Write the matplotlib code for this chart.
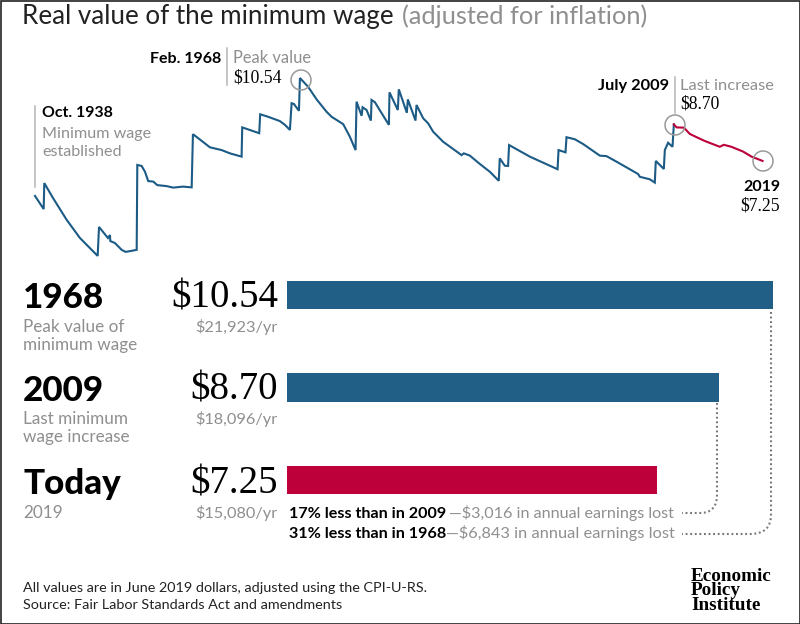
"""Real value of the minimum wage, EPI chart"""
import numpy as np
import matplotlib
matplotlib.use("Agg")
import matplotlib.pyplot as plt
from matplotlib.patches import Circle, PathPatch, Rectangle
from matplotlib.path import Path

# ---- data ----
blue_years = [1938.75, 1939.71, 1939.78, 1940.74, 1942.26, 1943.73, 1945.69, 1945.84, 1946.83, 1947.05,
              1947.09, 1947.61, 1948.35, 1948.79, 1950.01, 1950.08, 1950.56, 1950.93, 1951.29, 1951.85,
              1952.29, 1953.33, 1954.06, 1955.13, 1956.10, 1956.24, 1956.83, 1958.12, 1959.42, 1960.34,
              1961.63, 1961.70, 1963.58, 1963.69, 1964.58, 1965.87, 1966.43, 1966.98, 1967.17, 1967.42,
              1967.98, 1968.09, 1969.00, 1969.94, 1971.04, 1971.60, 1972.88, 1973.62, 1974.25, 1974.36,
              1974.92, 1975.03, 1975.47, 1975.95, 1976.02, 1976.39, 1977.94, 1978.01, 1978.93, 1979.04,
              1979.93, 1980.04, 1980.89, 1981.00, 1981.74, 1982.29, 1982.84, 1983.95, 1985.99, 1986.24,
              1986.91, 1988.01, 1989.12, 1990.11, 1990.22, 1990.78, 1991.14, 1991.25, 1993.55, 1996.62,
              1996.73, 1997.50, 1997.61, 1998.53, 1999.45, 2001.30, 2002.04, 2003.15, 2005.54, 2005.73,
              2006.84, 2007.39, 2007.50, 2008.39, 2008.50, 2008.86, 2009.35, 2009.50]
blue_wage = [5.86, 5.34, 6.37, 5.78, 4.91, 4.19, 3.48, 4.63, 4.19, 4.31,
             4.07, 3.99, 3.72, 3.64, 3.72, 7.09, 7.05, 6.82, 6.45, 6.43,
             6.29, 6.25, 6.19, 6.23, 6.20, 8.31, 8.15, 7.79, 7.68, 7.55,
             7.42, 8.58, 8.35, 9.10, 9.00, 8.83, 8.68, 8.48, 9.54, 9.51,
             9.24, 10.54, 10.19, 9.69, 9.20, 9.00, 8.71, 8.21, 7.68, 9.60,
             9.04, 9.38, 9.27, 8.85, 9.67, 9.58, 8.68, 9.97, 9.27, 10.09,
             9.16, 9.69, 8.85, 9.47, 8.94, 8.74, 8.41, 8.01, 7.48, 7.55,
             7.46, 7.13, 6.82, 6.46, 7.35, 7.06, 7.05, 7.88, 7.42, 6.92,
             7.68, 7.59, 8.19, 8.11, 7.92, 7.46, 7.44, 7.22, 6.73, 6.62,
             6.52, 6.39, 7.25, 6.93, 7.68, 7.97, 7.81, 8.70]
red_years = [2009.50, 2009.80, 2010.61, 2011.27, 2012.38, 2012.93, 2014.59, 2015.03, 2015.88, 2017.17, 2018.10, 2019.32]
red_wage = [8.70, 8.58, 8.57, 8.32, 8.13, 8.04, 7.81, 7.89, 7.81, 7.62, 7.42, 7.25]

bar_values = [10.54, 8.70, 7.25]
bar_labels = ["1968", "2009", "Today"]
bar_notes = [["Peak value of", "minimum wage"], ["Last minimum", "wage increase"], ["2019"]]
bar_prices = ["$10.54", "$8.70", "$7.25"]
bar_yearly = ["$21,923/yr", "$18,096/yr", "$15,080/yr"]

BLUE = "#1b5b85"
BAR_BLUE = "#225f87"
RED = "#bd0039"
GREY = "#8f8f8f"
SANS = "Lato"
SERIF = "Liberation Serif"

fig = plt.figure(figsize=(8, 6.24), dpi=100, facecolor="white")

# ---- line, same pixel box as the figure ----
ax = fig.add_axes([0, 0, 1, 1])
ax.plot(blue_years, blue_wage, color=BLUE, lw=1.5, solid_joinstyle="miter")
ax.plot(red_years, red_wage, color=RED, lw=1.5)
ax.set_xlim(1934.874, 2023.47)
ax.set_ylim(-11.125, 13.635)
ax.axis("off")

# ---- bars: the original lengths do not share one linear scale ----
bar_fwd = lambda v: np.interp(v, [0, 7.25, 8.70, 10.54], [0, 370, 432, 486])
bar_inv = lambda p: np.interp(p, [0, 370, 432, 486], [0, 7.25, 8.70, 10.54])
ax_bar = fig.add_axes([287 / 800, 1 - 526.25 / 624, 486 / 800, 277.5 / 624])
ax_bar.set_xscale("function", functions=(bar_fwd, bar_inv))
ax_bar.barh(range(3), bar_values, height=0.303, color=[BAR_BLUE, BAR_BLUE, RED])
ax_bar.set_xlim(0, 10.54)
ax_bar.set_ylim(2.5, -0.5)
ax_bar.axis("off")

# ---- overlay in image pixels for the annotations ----
ov = fig.add_axes([0, 0, 1, 1])
ov.set_xlim(0, 800)
ov.set_ylim(624, 0)
ov.axis("off")
ov.patch.set_alpha(0)


def txt(x, y, s, size, color="black", weight="normal", family=SANS, ha="left", va="baseline", **kw):
    return ov.text(x, y, s, fontsize=size, color=color, fontweight=weight, family=family, ha=ha, va=va, **kw)


txt(22, 24, "Real value of the minimum wage", 18.7, color="#222222")
txt(402, 24, "(adjusted for inflation)", 18.3, color=GREY)

# annotations on the line
for x, y0, y1 in [(35, 106, 187), (227, 48, 85), (675, 77, 113)]:
    ov.plot([x, x], [y0, y1], color="#b5b5b5", lw=1.1)
for x, y in [(301, 80), (675, 125), (763, 161)]:
    ov.add_patch(Circle((x, y), 10, fill=False, ec="#999999", lw=1.1))

txt(42, 117, "Oct. 1938", 11.4, weight="bold")
txt(42, 138, "Minimum wage", 11.6, color=GREY)
txt(42, 156, "established", 11.6, color=GREY)
txt(221, 63, "Feb. 1968", 11.5, weight="bold", ha="right")
txt(233, 63, "Peak value", 11.9, color=GREY)
txt(233, 83, "$10.54", 12.7, family=SERIF)
txt(669, 90, "July 2009", 11.8, weight="bold", ha="right")
txt(680, 90, "Last increase", 11.85, color=GREY)
txt(680, 109, "$8.70", 12.7, family=SERIF)
txt(780, 191, "2019", 11.5, weight="bold", ha="right")
txt(780, 211, "$7.25", 12.7, family=SERIF, ha="right")

# bar labels
head_base = [308, 401, 494]
note_base = [332, 424, 518]
price_base = [307, 400, 493]
for i in range(3):
    txt(23, head_base[i], bar_labels[i], 25.2, weight="black")
    for j, line in enumerate(bar_notes[i]):
        txt(23, note_base[i] + j * 18, line, 12.3, color=GREY)
    txt(278, price_base[i], bar_prices[i], 28, family=SERIF, ha="right")
    txt(278, note_base[i], bar_yearly[i], 11.8, color=GREY, ha="right")

# differences under the bars
txt(289, 518, "17% less than in 2009", 11.6, weight="bold")
txt(449, 518, "\u2014$3,016 in annual earnings lost", 11.6, color=GREY)
txt(289, 538, "31% less than in 1968", 11.6, weight="bold")
txt(446, 538, "\u2014$6,843 in annual earnings lost", 11.8, color=GREY)

# dotted connectors
dots = dict(fill=False, ec="#777777", lw=1.5, ls=(0, (0.9, 1.3)))
ov.add_patch(PathPatch(Path([(717, 403), (717, 495), (717, 513), (700, 513), (682, 513)],
                            [Path.MOVETO, Path.LINETO, Path.CURVE3, Path.CURVE3, Path.LINETO]), **dots))
ov.add_patch(PathPatch(Path([(771, 312), (771, 515), (771, 534), (750, 534), (682, 534)],
                            [Path.MOVETO, Path.LINETO, Path.CURVE3, Path.CURVE3, Path.LINETO]), **dots))

# footer
txt(23, 592, "All values are in June 2019 dollars, adjusted using the CPI-U-RS.", 10.35, color="#222222")
txt(23, 609, "Source: Fair Labor Standards Act and amendments", 10.4, color="#222222")
txt(691, 610, "Economic\nPolicy\nInstitute", 13.8, weight="bold", family=SERIF, linespacing=0.82)

# image border
ov.add_patch(Rectangle((0.5, 0.5), 799, 623, fill=False, ec="#222222", lw=1.2, clip_on=False))

fig.savefig("out.png", dpi=100)
plt.close()
